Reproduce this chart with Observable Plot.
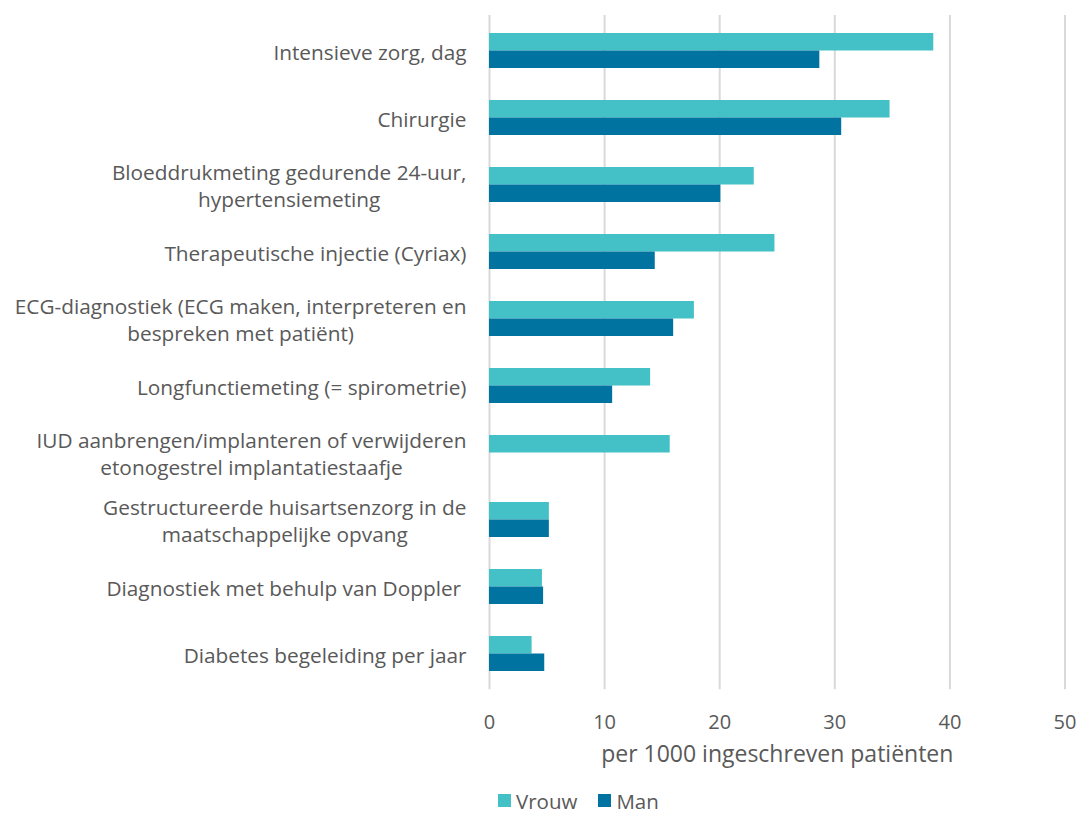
<!DOCTYPE html>
<html>
<head>
<meta charset="utf-8">
<script src="https://cdn.jsdelivr.net/npm/d3@7"></script>
<script src="https://cdn.jsdelivr.net/npm/@observablehq/plot@0.6"></script>
<style>
  html, body { margin: 0; padding: 0; background: #fff; }
  body { width: 1079px; height: 814px; position: relative; font-family: "Open Sans", sans-serif; }
  #chart { position: absolute; left: 0; top: 0; }
  #legend { position: absolute; left: 498px; top: 790.5px; height: 20px; line-height: 20px; display: flex; align-items: center; font-size: 20.5px; color: #595959; font-family: "Open Sans", sans-serif; }
  #legend .item { display: flex; align-items: center; margin-right: 21px; }
  #legend .sw { width: 13px; height: 13px; margin-right: 5px; display: inline-block; }
</style>
</head>
<body>
<div id="chart"></div>
<div id="legend"></div>
<script>
// ---- data ----
const categories = [
  "Intensieve zorg, dag",
  "Chirurgie",
  "Bloeddrukmeting gedurende 24-uur,\nhypertensiemeting",
  "Therapeutische injectie (Cyriax)",
  "ECG-diagnostiek (ECG maken, interpreteren en\nbespreken met patiënt)",
  "Longfunctiemeting (= spirometrie)",
  "IUD aanbrengen/implanteren of verwijderen\netonogestrel implantatiestaafje",
  "Gestructureerde huisartsenzorg in de\nmaatschappelijke opvang",
  "Diagnostiek met behulp van Doppler\u00a0",
  "Diabetes begeleiding per jaar"
];
const vrouw = [38.6, 34.8, 23.0, 24.8, 17.8, 14.0, 15.7, 5.2, 4.6, 3.7];
const man   = [28.7, 30.6, 20.1, 14.4, 16.0, 10.7, 0,    5.2, 4.7, 4.8];
const series = ["Vrouw", "Man"];
const seriesColors = ["#43C1C6", "#0073A0"];
const xTicks = [0, 10, 20, 30, 40, 50];
const xLabel = "per 1000 ingeschreven patiënten";

// ---- table for the library ----
const rows = categories.flatMap((c, i) => [
  {cat: c, sex: "Vrouw", value: vrouw[i]},
  {cat: c, sex: "Man", value: man[i]}
]);

const H = 790;
const frameTop = 15, frameBottom = 689.3;
const bandPadIn = 0.481;
const step = (frameBottom - frameTop) / 10;
const half = step * (1 - bandPadIn) / 2;
const textColor = "#595959";
const font = "'Open Sans', sans-serif";

const chart = Plot.plot({
  width: 1079,
  height: H,
  marginLeft: 489,
  marginRight: 14.5,
  marginTop: frameTop,
  marginBottom: H - frameBottom,
  style: {fontFamily: font, color: textColor, background: "#fff", overflow: "visible"},
  x: {domain: [0, 50]},
  y: {domain: categories, paddingInner: bandPadIn, paddingOuter: 0.2405},
  color: {domain: series, range: seriesColors},
  marks: [
    Plot.gridX(xTicks, {stroke: "#d9d9d9", strokeWidth: 2, strokeOpacity: 1}),
    Plot.barX(rows.filter(d => d.sex === "Vrouw"), {y: "cat", x: "value", fill: "sex", insetBottom: half}),
    Plot.barX(rows.filter(d => d.sex === "Man"), {y: "cat", x: "value", fill: "sex", insetTop: half}),
    Plot.axisX({ticks: xTicks, tickSize: 0, tickPadding: 25, fontSize: 20, label: null, fill: textColor}),
    Plot.text([xLabel], {frameAnchor: "bottom", dy: 65, fontSize: 23, fill: textColor, lineAnchor: "middle"}),
    Plot.axisY({tickSize: 0, tickPadding: 23, fontSize: 20.8, lineHeight: 1.29, label: null, fill: textColor})
  ]
});
document.getElementById("chart").appendChild(chart);

// center the lines of multi-line category labels within their block (right-aligned block)
chart.querySelectorAll('g[aria-label="y-axis tick label"] text').forEach(t => {
  const spans = t.querySelectorAll("tspan");
  if (spans.length < 2) return;
  let maxW = 0;
  spans.forEach(s => { maxW = Math.max(maxW, s.getComputedTextLength()); });
  t.setAttribute("text-anchor", "middle");
  spans.forEach(s => {
    const x0 = parseFloat(s.getAttribute("x")) || 0;
    s.setAttribute("x", x0 - maxW / 2);
  });
});

// legend
const leg = document.getElementById("legend");
series.forEach((s, i) => {
  const item = document.createElement("span");
  item.className = "item";
  const sw = document.createElement("span");
  sw.className = "sw";
  sw.style.background = seriesColors[i];
  item.appendChild(sw);
  item.appendChild(document.createTextNode(s));
  leg.appendChild(item);
});
</script>
</body>
</html>
